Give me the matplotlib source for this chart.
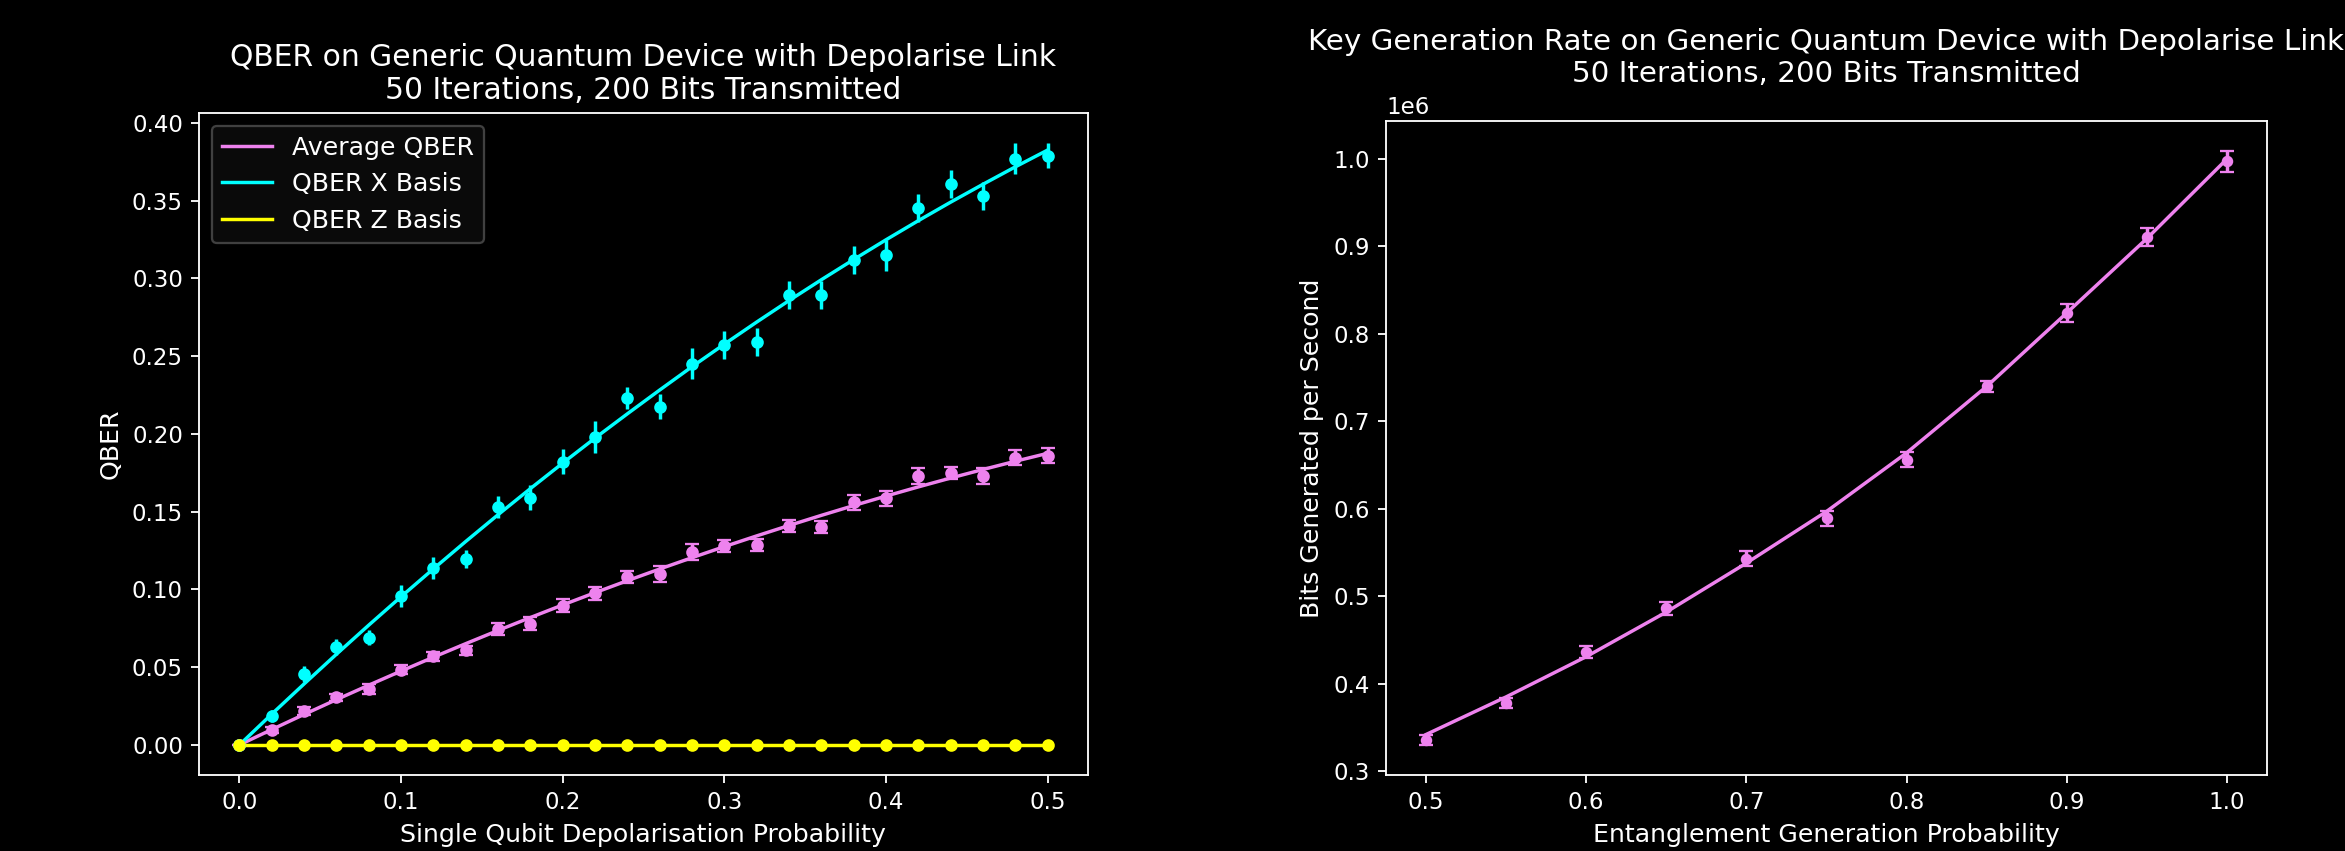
import numpy as np
import matplotlib
matplotlib.use("Agg")
import matplotlib.pyplot as plt

# ---------------- data: left panel ----------------
depol_prob = [0.00, 0.02, 0.04, 0.06, 0.08, 0.10, 0.12, 0.14, 0.16, 0.18, 0.20,
              0.22, 0.24, 0.26, 0.28, 0.30, 0.32, 0.34, 0.36, 0.38, 0.40,
              0.42, 0.44, 0.46, 0.48, 0.50]

qber_x_meas = [0.000, 0.0187, 0.0455, 0.0628, 0.0690, 0.0960, 0.1140, 0.1196, 0.1530, 0.1590, 0.1820,
               0.1980, 0.2230, 0.2176, 0.2450, 0.2570, 0.2590, 0.2890, 0.2890, 0.3120, 0.3150,
               0.3450, 0.3610, 0.3530, 0.3770, 0.3790]
qber_x_err = [0.000, 0.004, 0.005, 0.005, 0.005, 0.007, 0.007, 0.006, 0.007, 0.008, 0.008,
              0.010, 0.007, 0.008, 0.010, 0.009, 0.009, 0.009, 0.009, 0.009, 0.010,
              0.009, 0.009, 0.009, 0.010, 0.008]
qber_x_fit = [0.0000, 0.0198, 0.0392, 0.0583, 0.0770, 0.0953, 0.1132, 0.1308, 0.1480, 0.1648, 0.1812,
              0.1973, 0.2129, 0.2282, 0.2432, 0.2577, 0.2719, 0.2857, 0.2991, 0.3121, 0.3248,
              0.3371, 0.3490, 0.3605, 0.3717, 0.3825]

qber_avg_meas = [0.000, 0.0095, 0.0219, 0.0305, 0.0360, 0.0484, 0.0570, 0.0608, 0.0744, 0.0780, 0.0896,
                 0.0974, 0.1080, 0.1100, 0.1240, 0.1280, 0.1285, 0.1406, 0.1400, 0.1560, 0.1585,
                 0.1730, 0.1750, 0.1730, 0.1847, 0.1860]
qber_avg_err = [0.000, 0.002, 0.0025, 0.0025, 0.003, 0.003, 0.003, 0.003, 0.004, 0.004, 0.004,
                0.004, 0.004, 0.005, 0.005, 0.004, 0.004, 0.004, 0.004, 0.005, 0.005,
                0.005, 0.004, 0.005, 0.005, 0.005]
qber_avg_fit = [0.0000, 0.0099, 0.0196, 0.0291, 0.0384, 0.0475, 0.0564, 0.0651, 0.0736, 0.0819, 0.0900,
                0.0979, 0.1056, 0.1131, 0.1204, 0.1275, 0.1344, 0.1411, 0.1476, 0.1539, 0.1600,
                0.1659, 0.1716, 0.1771, 0.1824, 0.1875]

qber_z_meas = [0.0] * 26
qber_z_err = [0.0] * 26
qber_z_fit = [0.0] * 26

# ---------------- data: right panel ----------------
ent_prob = [0.50, 0.55, 0.60, 0.65, 0.70, 0.75, 0.80, 0.85, 0.90, 0.95, 1.00]
rate_meas = [0.3355e6, 0.3783e6, 0.4360e6, 0.4861e6, 0.5432e6, 0.5892e6,
             0.6562e6, 0.7400e6, 0.8237e6, 0.9110e6, 0.9974e6]
rate_err = [0.0058e6, 0.0058e6, 0.0070e6, 0.0070e6, 0.0086e6, 0.0086e6,
            0.0086e6, 0.0065e6, 0.0100e6, 0.0105e6, 0.0120e6]
rate_fit = [0.342e6, 0.385e6, 0.431e6, 0.482e6, 0.538e6, 0.597e6,
            0.664e6, 0.740e6, 0.824e6, 0.909e6, 1.000e6]

titles = ["QBER on Generic Quantum Device with Depolarise Link\n50 Iterations, 200 Bits Transmitted",
          "Key Generation Rate on Generic Quantum Device with Depolarise Link\n50 Iterations, 200 Bits Transmitted"]
xlabels = ["Single Qubit Depolarisation Probability", "Entanglement Generation Probability"]
ylabels = ["QBER", "Bits Generated per Second"]
legend_labels = ["Average QBER", "QBER X Basis", "QBER Z Basis"]

C_AVG = "violet"
C_X = "cyan"
C_Z = "yellow"

plt.style.use("dark_background")
fig = plt.figure(figsize=(2345 / 165, 851 / 165), dpi=165)
W, H = 2345, 851
ax1 = fig.add_axes([199 / W, 1 - 775 / H, (1088 - 199) / W, (775 - 113) / H])
ax2 = fig.add_axes([1386 / W, 1 - 775 / H, (2267 - 1386) / W, (775 - 121) / H])

TITLE_FS = 13
LABEL_FS = 11

# left panel
ax1.plot(depol_prob, qber_avg_fit, color=C_AVG, label=legend_labels[0])
ax1.plot(depol_prob, qber_x_fit, color=C_X, label=legend_labels[1])
ax1.errorbar(depol_prob, qber_avg_meas, yerr=qber_avg_err, fmt="o", color=C_AVG,
             markersize=4.5, capsize=3)
ax1.errorbar(depol_prob, qber_x_meas, yerr=qber_x_err, fmt="o", color=C_X,
             markersize=4.5)
ax1.plot(depol_prob, qber_z_fit, color=C_Z, label=legend_labels[2])
ax1.errorbar(depol_prob, qber_z_meas, yerr=qber_z_err, fmt="o", color=C_Z,
             markersize=4.5)
ax1.set_title(titles[0], fontsize=TITLE_FS)
ax1.set_xlabel(xlabels[0], fontsize=LABEL_FS)
ax1.set_ylabel(ylabels[0], fontsize=LABEL_FS)
leg = ax1.legend(loc="upper left", fontsize=LABEL_FS, facecolor="#0a0a0a",
                 edgecolor="0.25", framealpha=1.0)

# right panel
ax2.plot(ent_prob, rate_fit, color=C_AVG)
ax2.errorbar(ent_prob, rate_meas, yerr=rate_err, fmt="o", color=C_AVG,
             markersize=4, capsize=3)
ax2.set_title(titles[1], fontsize=12.8)
ax2.set_xlabel(xlabels[1], fontsize=LABEL_FS)
ax2.set_ylabel(ylabels[1], fontsize=LABEL_FS)

fig.savefig("out.png", dpi=165)
